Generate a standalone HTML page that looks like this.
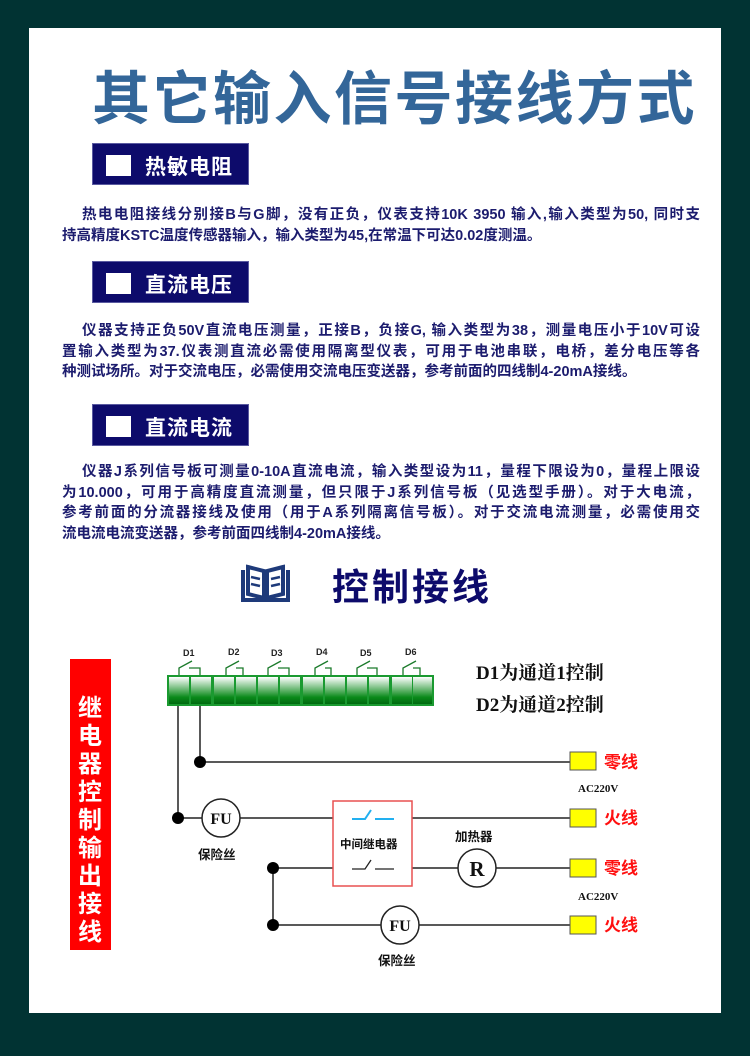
<!DOCTYPE html>
<html><head><meta charset="utf-8"><style>
*{margin:0;padding:0;box-sizing:border-box}
body{width:750px;height:1056px;background:#013333;position:relative;overflow:hidden;font-family:"Liberation Sans","Noto Sans CJK SC",sans-serif}
.panel{position:absolute;left:29px;top:28px;width:692px;height:985px;background:#fff}
.abs{position:absolute}
.title{left:92px;top:52px;font-size:58px;font-weight:bold;color:#336699;letter-spacing:2.5px;white-space:nowrap}
.hdr{position:absolute;left:92px;width:157px;height:42px;background:#0d0b6b;border:1px solid #5a5aa0}
.hdr i{position:absolute;left:13px;top:11px;width:25px;height:21px;background:#fff}
.hdr span{position:absolute;left:52px;top:7px;font-size:21px;font-weight:bold;color:#fff;letter-spacing:1px}
.p{position:absolute;left:62px;width:638px;font-size:14.5px;font-weight:bold;color:#1c1c6e;line-height:20.5px}
.p div{text-align:justify;text-align-last:justify;white-space:nowrap;height:20.5px}
.p div.f{padding-left:20px}
.p div.l{text-align-last:left}
</style></head><body>
<div class="panel"></div>
<div class="abs title">其它输入信号接线方式</div>

<div class="hdr" style="top:143px"><i></i><span>热敏电阻</span></div>
<div class="p" style="top:205px">
<div class="f">热电电阻接线分别接B与G脚，没有正负，仪表支持10K 3950 输入,输入类型为50, 同时支</div>
<div class="l">持高精度KSTC温度传感器输入，输入类型为45,在常温下可达0.02度测温。</div>
</div>

<div class="hdr" style="top:261px"><i></i><span>直流电压</span></div>
<div class="p" style="top:321px">
<div class="f">仪器支持正负50V直流电压测量，正接B，负接G, 输入类型为38，测量电压小于10V可设</div>
<div>置输入类型为37.仪表测直流必需使用隔离型仪表，可用于电池串联，电桥，差分电压等各</div>
<div class="l">种测试场所。对于交流电压，必需使用交流电压变送器，参考前面的四线制4-20mA接线。</div>
</div>

<div class="hdr" style="top:404px"><i></i><span>直流电流</span></div>
<div class="p" style="top:462px">
<div class="f">仪器J系列信号板可测量0-10A直流电流，输入类型设为11，量程下限设为0，量程上限设</div>
<div>为10.000，可用于高精度直流测量，但只限于J系列信号板（见选型手册）。对于大电流，</div>
<div>参考前面的分流器接线及使用（用于A系列隔离信号板）。对于交流电流测量，必需使用交</div>
<div class="l">流电流电流变送器，参考前面四线制4-20mA接线。</div>
</div>

<svg class="abs" style="left:0;top:0" width="750" height="1056">
<defs><linearGradient id="g" x1="0" y1="0" x2="0" y2="1"><stop offset="0" stop-color="#ffffff"/><stop offset="0.75" stop-color="#0a8a1a"/><stop offset="1" stop-color="#006a10"/></linearGradient></defs>
<!-- book icon -->
<g fill="none" stroke="#1e3a7a" stroke-width="4">
<path d="M243 570 L243 600 L288 600 L288 570"/>
<path d="M248 567 L264 571 L264 598 L248 594 Z"/>
<path d="M283 567 L267 571 L267 598 L283 594 Z"/>
</g>
<g stroke="#1e3a7a" stroke-width="2.5"><line x1="251" y1="577" x2="260" y2="579"/><line x1="251" y1="584" x2="260" y2="586"/><line x1="280" y1="577" x2="271" y2="579"/><line x1="280" y1="584" x2="271" y2="586"/></g>
<text x="332" y="600" font-size="37" font-weight="bold" fill="#0d0b6b" font-family="Liberation Sans,Noto Sans CJK SC,sans-serif" letter-spacing="3">控制接线</text>

<!-- red banner -->
<rect x="70" y="659" width="41" height="291" fill="#ff0000"/>
<text font-size="24" font-weight="bold" fill="#fff" font-family="Liberation Sans,Noto Sans CJK SC,sans-serif" text-anchor="middle">
<tspan x="90" y="716">继</tspan><tspan x="90" y="744">电</tspan><tspan x="90" y="772">器</tspan><tspan x="90" y="800">控</tspan><tspan x="90" y="828">制</tspan><tspan x="90" y="856">输</tspan><tspan x="90" y="884">出</tspan><tspan x="90" y="912">接</tspan><tspan x="90" y="940">线</tspan>
</text>

<!-- terminal block -->
<rect x="167" y="675" width="267" height="31" fill="#1a9a30"/>
<g fill="url(#g)">
<rect x="169" y="677" width="20" height="27"/><rect x="191" y="677" width="20" height="27"/>
<rect x="214" y="677" width="20" height="27"/><rect x="236" y="677" width="20" height="27"/>
<rect x="258" y="677" width="20" height="27"/><rect x="280" y="677" width="20" height="27"/>
<rect x="303" y="677" width="20" height="27"/><rect x="325" y="677" width="20" height="27"/>
<rect x="347" y="677" width="20" height="27"/><rect x="369" y="677" width="20" height="27"/>
<rect x="392" y="677" width="20" height="27"/><rect x="413" y="677" width="19" height="27"/>
</g>
<g fill="none" stroke="#1a7a2a" stroke-width="1.3">
<path d="M179 675 V668 L192 661 M189 668 H200 V675"/>
<path d="M226 675 V668 L239 661 M236 668 H243 V675"/>
<path d="M268 675 V668 L281 661 M278 668 H289 V675"/>
<path d="M315 675 V668 L328 661 M325 668 H331 V675"/>
<path d="M357 675 V668 L370 661 M367 668 H377 V675"/>
<path d="M403 675 V668 L416 661 M413 668 H420 V675"/>
</g>
<g font-size="9" font-weight="bold" fill="#222" font-family="Liberation Sans,sans-serif">
<text x="183" y="656">D1</text><text x="228" y="655">D2</text><text x="271" y="656">D3</text><text x="316" y="655">D4</text><text x="360" y="656">D5</text><text x="405" y="655">D6</text>
</g>
<g font-size="19" font-weight="bold" fill="#111" font-family="Liberation Serif,Noto Serif CJK SC,serif">
<text x="476" y="679">D1为通道1控制</text><text x="476" y="711">D2为通道2控制</text>
</g>

<!-- wires -->
<g stroke="#222" stroke-width="1.5" fill="none">
<path d="M178 706 V818 H202"/>
<path d="M200 706 V762 H570"/>
<line x1="240" y1="818" x2="333" y2="818"/>
<line x1="412" y1="818" x2="570" y2="818"/>
<path d="M273 868 H333 M273 868 V925 H381"/>
<line x1="412" y1="868" x2="458" y2="868"/>
<line x1="496" y1="868" x2="570" y2="868"/>
<line x1="419" y1="925" x2="570" y2="925"/>
</g>
<g fill="#000"><circle cx="200" cy="762" r="6"/><circle cx="178" cy="818" r="6"/><circle cx="273" cy="868" r="6"/><circle cx="273" cy="925" r="6"/></g>
<g fill="#fff" stroke="#222" stroke-width="1.5"><circle cx="221" cy="818" r="19"/><circle cx="477" cy="868" r="19"/><circle cx="400" cy="925" r="19"/></g>
<g font-family="Liberation Serif,serif" font-weight="bold" fill="#111" text-anchor="middle">
<text x="221" y="824" font-size="16">FU</text><text x="477" y="876" font-size="21">R</text><text x="400" y="931" font-size="16">FU</text>
</g>
<!-- relay -->
<rect x="333" y="801" width="79" height="85" fill="#fff" stroke="#e85050" stroke-width="1.5"/>
<path d="M352 819 H365 L371 810 M375 819 H394" stroke="#22b0f0" stroke-width="2" fill="none"/>
<path d="M352 869 H365 L371 860 M375 869 H394" stroke="#222" stroke-width="1.3" fill="none"/>
<g font-size="11.5" font-weight="bold" fill="#111" font-family="Liberation Sans,Noto Sans CJK SC,sans-serif">
<text x="340" y="848">中间继电器</text>
<text x="455" y="841" font-size="12.5">加热器</text>
<text x="198" y="859" font-size="12.5">保险丝</text>
<text x="378" y="965" font-size="12.5">保险丝</text>
</g>
<g fill="#ffff00" stroke="#555" stroke-width="1"><rect x="570" y="752" width="26" height="18"/><rect x="570" y="809" width="26" height="18"/><rect x="570" y="859" width="26" height="18"/><rect x="570" y="916" width="26" height="18"/></g>
<g font-size="17" font-weight="bold" fill="#ff1010" font-family="Liberation Sans,Noto Sans CJK SC,sans-serif">
<text x="604" y="768">零线</text><text x="604" y="824">火线</text><text x="604" y="874">零线</text><text x="604" y="931">火线</text>
</g>
<g font-size="11" font-weight="bold" fill="#111" font-family="Liberation Serif,serif">
<text x="578" y="792">AC220V</text><text x="578" y="900">AC220V</text>
</g>
</svg>
</body></html>
